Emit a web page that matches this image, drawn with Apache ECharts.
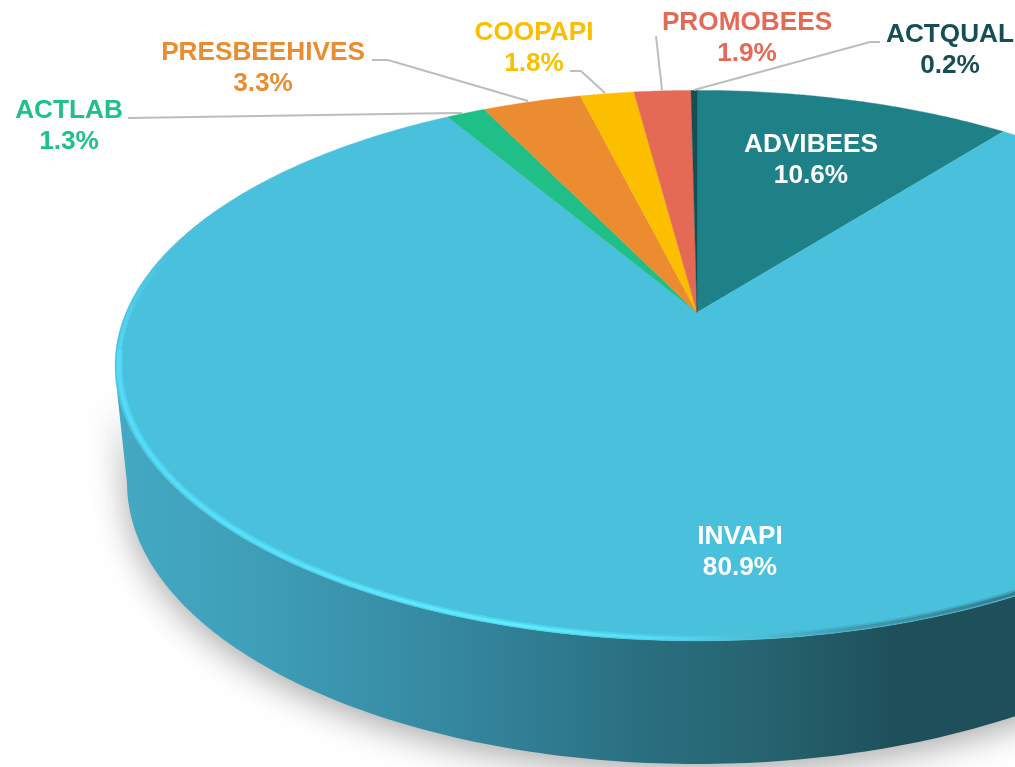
<!DOCTYPE html>
<html><head><meta charset="utf-8">
<style>html,body{margin:0;padding:0;background:#fff;overflow:hidden}#c{width:1015px;height:767px}</style>
<script src="https://cdn.jsdelivr.net/npm/echarts@6/dist/echarts.min.js"></script>
</head><body><div id="c"></div>
<script>
// Data (starting at 12 o'clock, clockwise)
const categories = ['ADVIBEES','INVAPI','ACTLAB','PRESBEEHIVES','COOPAPI','PROMOBEES','ACTQUAL'];
const shares = [10.6,80.9,1.3,3.3,1.8,1.9,0.2];
const percentLabels = ['10.6%','80.9%','1.3%','3.3%','1.8%','1.9%','0.2%'];

// Styles
const sliceColors = ['#1e8187','#4ac1dc','#1fbf87','#ea8c2f','#fbbf00','#e46a56','#154f55'];
const textColors = ['#ffffff','#ffffff','#1fc08a','#ea8c2f','#fbbf00','#e46a56','#154f55'];

// Layout: projection of the tilted disc, label anchors and leader routes
const APEX = {x:697, y:312.5, A:571, B:265, p:0.193};
const BASE = {x:697, y:483, a:570, b:281};
const labelAnchor = [[811,160],[740,552],[69,126],[263,68.5],[534,48.5],[747,38],[950,50.5]];
const leaders = [null,null,
  [[128,118],[420,113.5],[462,113]],
  [[372,60],[388,60],[528,101]],
  [[570,71],[581,71],[605,93]],
  [[656,36],[662,90]],
  [[880,42],[870,42],[694,90]]];

function project(deg, k){
  const t = deg*Math.PI/180, u = k*Math.sin(t), v = k*Math.cos(t), w = 1+APEX.p*v;
  return [APEX.x+APEX.A*u/w, APEX.y-APEX.B*v/w];
}
function arc(from,to,k){
  const pts=[], n=Math.max(2,Math.ceil(Math.abs(to-from)/0.5));
  for(let i=0;i<=n;i++) pts.push(project(from+(to-from)*i/n,k));
  return pts;
}
function gradient(stops){
  return {type:'linear',x:0,y:0,x2:1015,y2:0,global:true,
    colorStops:stops.map(s=>({offset:s[0]/1015,color:s[1]}))};
}
const toPx=(api,pts)=>pts.map(p=>api.coord(p));

function renderWall(params,api){
  const top = arc(256,90,1);
  const bottom=[];
  for(let a=0;a<=180;a+=1){
    const r=a*Math.PI/180;
    bottom.push([BASE.x+BASE.a*Math.cos(r),BASE.y+BASE.b*Math.sin(r)]);
  }
  return {type:'polygon',shape:{points:toPx(api,top.concat(bottom))},
    style:{
      fill:gradient([[115,'#44a9c3'],[250,'#3f9fb9'],[400,'#378ea6'],[520,'#317f95'],[640,'#2a6f80'],[760,'#26646f'],[900,'#1e4f5b'],[1015,'#1e4f5b']]),
      shadowBlur:34,shadowColor:'rgba(0,0,0,0.34)',shadowOffsetY:8
    }};
}
function renderSlice(params,api){
  const i=params.dataIndex;
  let start=0; for(let j=0;j<i;j++) start+=shares[j];
  const a0=start*3.6, a1=(start+api.value(0))*3.6;
  const children=[{type:'polygon',shape:{points:toPx(api,[[APEX.x,APEX.y]].concat(arc(a0,a1,1)))},
    style:{fill:sliceColors[i],stroke:sliceColors[i],lineWidth:0.4}}];
  return {type:'group',children};
}
function renderBevel(params,api){
  const fadeIn={type:'linear',x:0,y:250,x2:0,y2:372,global:true,
    colorStops:[{offset:0,color:'rgba(82,220,251,0)'},{offset:1,color:'#52dcfb'}]};
  const glow=gradient([[110,'rgba(85,225,252,0.5)'],[560,'rgba(90,235,255,0.5)'],[740,'rgba(80,205,230,0.2)'],[830,'rgba(60,150,170,0.35)'],[1015,'rgba(50,130,150,0.45)']]);
  const core=gradient([[110,'#52dcfb'],[300,'#57e4fd'],[520,'#5eeeff'],[660,'#54dcf3'],[760,'#4cbcd4'],[860,'#3f98ae'],[1015,'#347c8e']]);
  return {type:'group',children:[
    {type:'polyline',shape:{points:toPx(api,arc(292,256,0.994))},style:{fill:'none',lineWidth:4,stroke:fadeIn}},
    {type:'polyline',shape:{points:toPx(api,arc(262,100,0.993))},style:{fill:'none',lineWidth:6,stroke:glow}},
    {type:'polyline',shape:{points:toPx(api,arc(262,100,0.994))},style:{fill:'none',lineWidth:3,stroke:core}}
  ]};
}
function renderLabel(params,api){
  const i=params.dataIndex, kids=[];
  if(leaders[i]) kids.push({type:'polyline',shape:{points:toPx(api,leaders[i])},
    style:{fill:'none',stroke:'#bdbdbd',lineWidth:2}});
  const c=api.coord(labelAnchor[i]);
  kids.push({type:'text',style:{x:c[0],y:c[1],text:categories[i]+'\n'+percentLabels[i],
    fill:textColors[i],align:'center',verticalAlign:'middle',lineHeight:31,
    font:'bold 26.2px "Liberation Sans", Arial, sans-serif'}});
  return {type:'group',children:kids};
}
const rows=categories.map((n,i)=>({name:n,value:[shares[i]]}));
const chart=echarts.init(document.getElementById('c'),null,{renderer:'canvas'});
chart.setOption({
  animation:false,backgroundColor:'#fff',
  grid:{left:0,right:0,top:0,bottom:0},
  xAxis:{type:'value',min:0,max:1015,show:false},
  yAxis:{type:'value',min:0,max:767,inverse:true,show:false},
  series:[
    {type:'custom',name:'wall',renderItem:renderWall,data:[[100]],clip:false,silent:true},
    {type:'custom',name:'share',renderItem:renderSlice,data:rows,clip:false,silent:true},
    {type:'custom',name:'bevel',renderItem:renderBevel,data:[[100]],clip:false,silent:true},
    {type:'custom',name:'labels',renderItem:renderLabel,data:rows,clip:false,silent:true}
  ]
});
</script></body></html>
